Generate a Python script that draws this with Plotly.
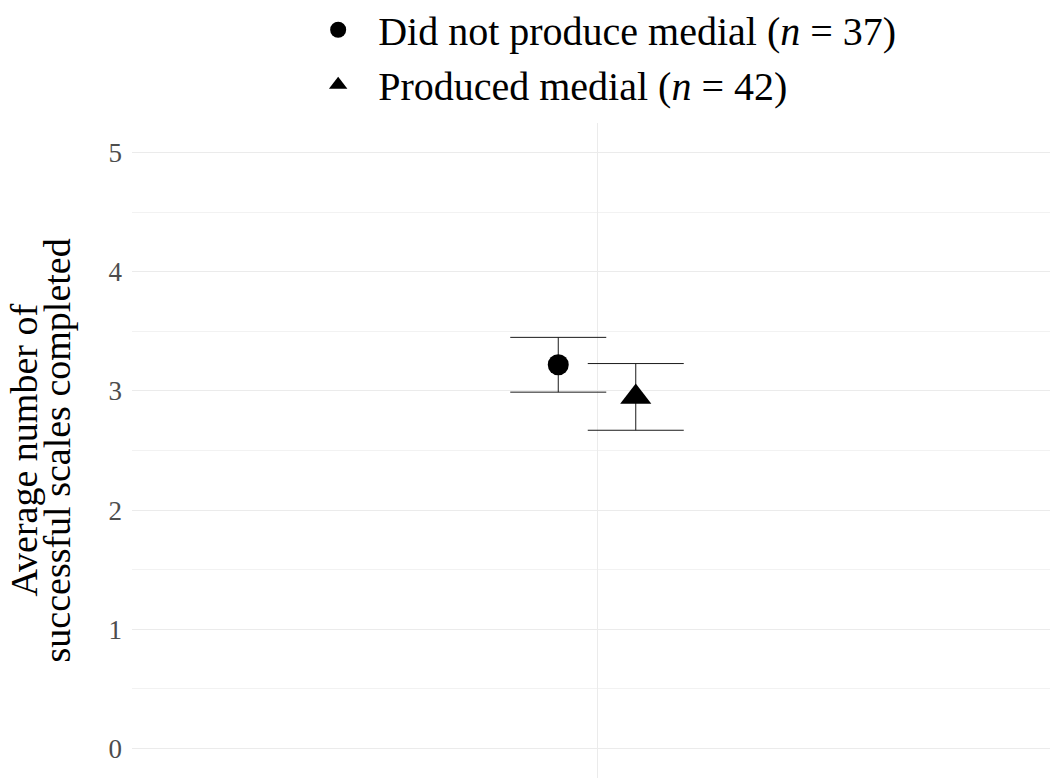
import plotly.graph_objects as go

# Group summaries: mean number of successful scales and its standard error
groups = ["Did not produce medial (<i>n</i> = 37)", "Produced medial (<i>n</i> = 42)"]
means = [3.22, 2.95]
errors = [0.23, 0.28]
symbols = ["circle", "triangle-up"]
marker_sizes = [21, 27]

# One category on the x axis, with the two groups dodged around it
category_pos = 1.0
dodge_width = 0.1
offsets = [-dodge_width / 2, dodge_width / 2]

y_ticks = [0, 1, 2, 3, 4, 5]
y_title_lines = ["Average number of", "successful scales completed"]

FONT = "Liberation Serif, 'Times New Roman', serif"

fig = go.Figure()
for name, m, e, sym, sz, off in zip(groups, means, errors, symbols, marker_sizes, offsets):
    fig.add_trace(go.Scatter(
        x=[category_pos + off],
        y=[m],
        mode="markers",
        name=name,
        marker=dict(symbol=sym, size=sz, color="black", line=dict(width=0)),
        error_y=dict(type="data", array=[e], visible=True,
                     color="#1a1a1a", thickness=1, width=48),
    ))

# Rotated y-axis title, drawn line by line for tight line spacing
for line, xpos in zip(y_title_lines, [-0.1187, -0.0817]):
    fig.add_annotation(
        text=line, textangle=-90,
        xref="paper", yref="paper", x=xpos, y=0.5,
        xanchor="center", yanchor="middle", showarrow=False,
        font=dict(family=FONT, size=38, color="black"),
    )

fig.update_layout(
    width=1050,
    height=778,
    margin=dict(l=132, r=0, t=123, b=0, pad=0, autoexpand=False),
    paper_bgcolor="white",
    plot_bgcolor="white",
    font=dict(family=FONT, color="black"),
    showlegend=True,
    legend=dict(
        orientation="v",
        x=0.181, xanchor="left",
        y=1.192, yanchor="top",
        font=dict(family=FONT, size=40, color="black"),
        bgcolor="rgba(0,0,0,0)",
        itemwidth=70,
    ),
    xaxis=dict(
        range=[0.4, 0.4 + 918 / 775],
        tickvals=[category_pos],
        showticklabels=False,
        showgrid=True,
        gridcolor="#ebebeb",
        gridwidth=1.2,
        zeroline=False,
        showline=False,
        ticks="",
    ),
    yaxis=dict(
        range=[-0.25, 5.25],
        tickvals=y_ticks,
        ticktext=[str(t) for t in y_ticks],
        tickfont=dict(family=FONT, size=27, color="#4d4d4d"),
        ticklabelstandoff=9,
        showgrid=True,
        gridcolor="#ebebeb",
        gridwidth=1.2,
        minor=dict(tick0=0.5, dtick=1, showgrid=True, gridcolor="#f2f2f2", gridwidth=0.8),
        zeroline=False,
        showline=False,
        ticks="",
    ),
)

fig.write_html("out.html")
